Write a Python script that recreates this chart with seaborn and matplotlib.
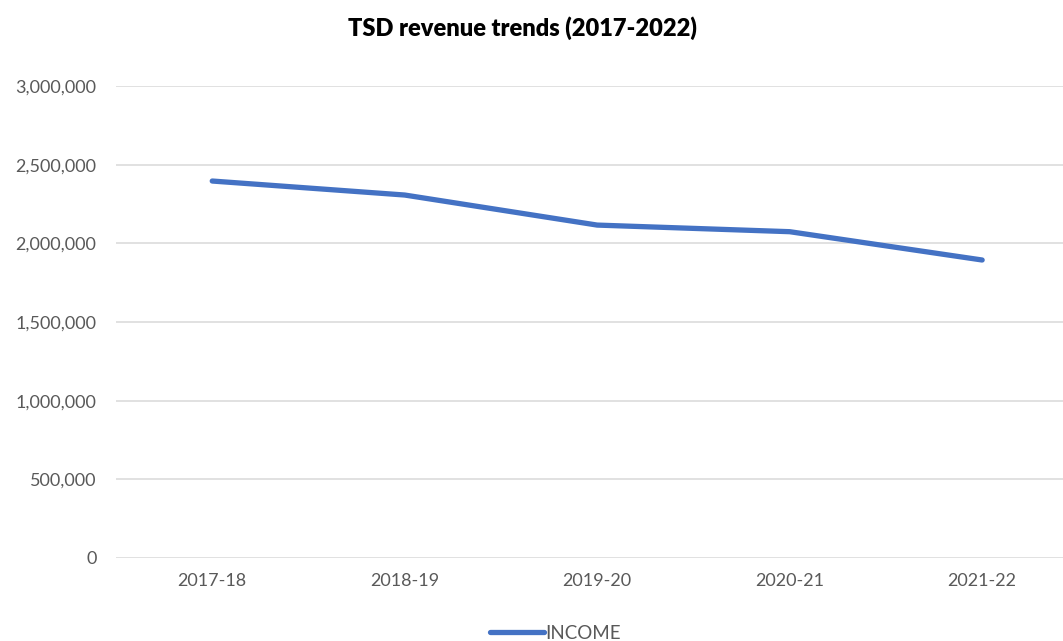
import matplotlib
matplotlib.use("Agg")
import matplotlib.pyplot as plt
import matplotlib.ticker as mticker
import seaborn as sns
import pandas as pd

years = ["2017-18", "2018-19", "2019-20", "2020-21", "2021-22"]
income = [2396000, 2307000, 2116000, 2074000, 1894000]
series_name = "INCOME"
y_ticks = [0, 500000, 1000000, 1500000, 2000000, 2500000, 3000000]

sns.set_theme(style="white")
plt.rcParams["font.family"] = ["Lato", "DejaVu Sans"]

df = pd.DataFrame({"year": years, "value": income, "series": series_name})

fig = plt.figure(figsize=(10.63, 6.41), dpi=100)
ax = fig.add_axes([116 / 1063, 83 / 641, 1 - 116 / 1063, 472 / 641])

sns.lineplot(data=df, x="year", y="value", hue="series", palette=["#4472C4"],
             linewidth=3.8, ax=ax, sort=False, legend=True,
             solid_capstyle="round", solid_joinstyle="round")

ax.set_xlim(-0.5, 4.42)
ax.set_ylim(0, 3000000)
ax.set_yticks(y_ticks)
ax.yaxis.set_major_formatter(mticker.FuncFormatter(lambda v, p: f"{int(v):,}"))
ax.grid(axis="y", color="#D9D9D9", linewidth=1.1)
ax.set_axisbelow(True)
for s in ax.spines.values():
    s.set_visible(False)
ax.tick_params(axis="both", length=0, labelsize=13, labelcolor="#595959")
ax.tick_params(axis="y", pad=14)
ax.tick_params(axis="x", pad=11)
ax.set_xlabel("")
ax.set_ylabel("")

ax.get_legend().remove()
handles, labels = ax.get_legend_handles_labels()
for h in handles:
    h.set_solid_capstyle("round")
fig.legend(handles, labels, loc="center", bbox_to_anchor=(555 / 1063, 0.012),
           frameon=False, handlelength=2.9, handletextpad=0.05,
           fontsize=13.5, labelcolor="#595959")

fig.text(522 / 1063, 1 - 28 / 641, "TSD revenue trends (2017-2022)", ha="center",
         va="center", fontsize=17, fontweight="heavy", color="black")

fig.savefig("out.png", dpi=100)
